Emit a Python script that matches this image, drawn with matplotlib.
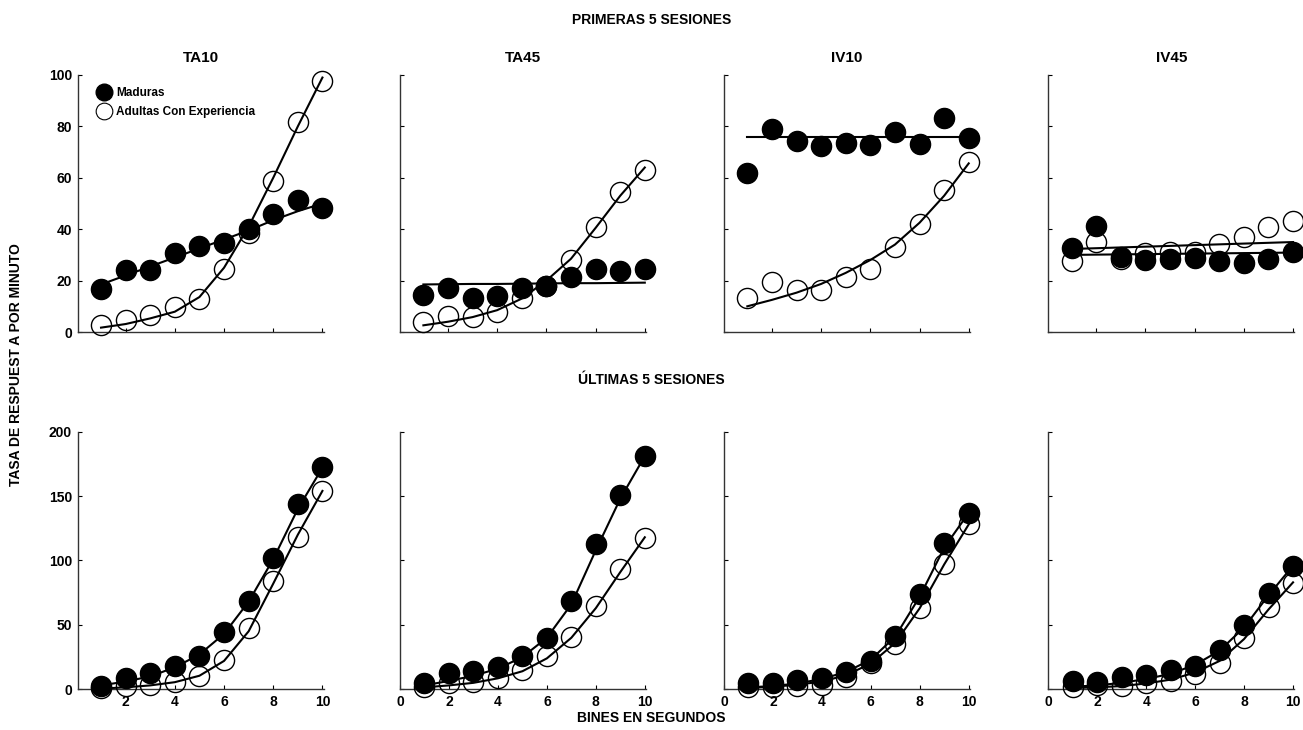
import matplotlib.pyplot as plt
import numpy as np

plt.rcParams['font.family'] = ['Liberation Sans', 'DejaVu Sans']
plt.rcParams['font.weight'] = 'bold'

bins = [1, 2, 3, 4, 5, 6, 7, 8, 9, 10]
conds = ["TA10", "TA45", "IV10", "IV45"]

# primeras 5 sesiones
top_mad = {
    "TA10": [16.6, 24.1, 24.0, 30.6, 33.5, 34.8, 40.0, 45.9, 51.4, 48.1],
    "TA45": [14.4, 17.2, 13.4, 14.0, 17.0, 17.9, 21.5, 24.4, 23.9, 24.5],
    "IV10": [61.7, 79.0, 74.3, 72.4, 73.4, 72.8, 77.7, 73.2, 83.1, 75.6],
    "IV45": [32.6, 41.4, 29.3, 28.0, 28.4, 28.7, 27.6, 26.7, 28.4, 31.0],
}
top_adu = {
    "TA10": [2.7, 4.7, 6.6, 9.9, 12.7, 24.4, 38.4, 58.9, 81.6, 97.8],
    "TA45": [3.8, 6.2, 5.7, 7.9, 13.4, 18.0, 28.0, 40.7, 54.3, 63.0],
    "IV10": [13.1, 19.3, 16.3, 16.3, 21.5, 24.4, 33.0, 42.0, 55.3, 66.3],
    "IV45": [27.6, 35.1, 28.3, 30.6, 31.0, 31.3, 34.1, 36.8, 41.0, 43.2],
}
top_fit_mad = {
    "TA10": [18.5, 22.0, 25.5, 29.0, 32.5, 36.0, 39.5, 43.5, 47.0, 50.0],
    "TA45": [18.5, 18.6, 18.7, 18.7, 18.8, 18.9, 19.0, 19.0, 19.1, 19.2],
    "IV10": [76.0, 76.0, 76.0, 76.0, 76.0, 76.0, 76.0, 76.0, 76.0, 76.0],
    "IV45": [30.0, 30.1, 30.2, 30.3, 30.4, 30.5, 30.6, 30.7, 30.8, 30.9],
}
top_fit_adu = {
    "TA10": [1.7, 3.1, 5.3, 7.9, 13.6, 25.0, 41.0, 60.0, 80.0, 99.0],
    "TA45": [2.6, 4.0, 5.8, 8.5, 13.0, 20.0, 28.5, 40.5, 53.0, 64.0],
    "IV10": [10.0, 12.5, 15.3, 18.7, 23.0, 28.0, 34.0, 42.5, 53.0, 65.6],
    "IV45": [32.3, 32.6, 32.9, 33.2, 33.5, 33.8, 34.1, 34.4, 34.7, 35.0],
}

# ultimas 5 sesiones
bot_mad = {
    "TA10": [2.8, 9.0, 12.4, 18.1, 26.1, 44.7, 68.8, 101.7, 143.6, 172.8],
    "TA45": [4.6, 12.4, 14.4, 17.0, 25.8, 39.6, 68.8, 112.5, 150.8, 181.0],
    "IV10": [5.2, 5.2, 7.2, 8.5, 13.7, 22.2, 41.4, 74.0, 113.9, 137.1],
    "IV45": [6.7, 5.9, 9.3, 11.1, 15.0, 18.1, 30.5, 49.9, 74.5, 95.7],
}
bot_adu = {
    "TA10": [1.3, 2.6, 3.3, 5.4, 10.3, 22.7, 47.8, 84.3, 118.5, 154.2],
    "TA45": [2.0, 4.6, 5.4, 8.5, 15.0, 25.8, 40.8, 64.9, 93.2, 117.7],
    "IV10": [2.0, 2.0, 2.8, 3.3, 9.8, 20.2, 35.2, 62.9, 97.0, 128.1],
    "IV45": [2.0, 3.3, 2.8, 4.6, 6.7, 11.9, 20.7, 39.6, 63.7, 82.8],
}
bot_fit_mad = {
    "TA10": [3.0, 6.0, 10.0, 17.0, 27.0, 43.0, 68.0, 101.0, 140.0, 172.0],
    "TA45": [3.0, 6.5, 10.5, 16.0, 25.0, 40.0, 66.0, 108.0, 148.0, 181.0],
    "IV10": [1.5, 2.5, 4.5, 8.0, 13.5, 23.0, 41.0, 72.0, 110.0, 137.0],
    "IV45": [2.0, 3.0, 5.0, 8.0, 12.0, 19.0, 30.0, 48.0, 73.0, 96.0],
}
bot_fit_adu = {
    "TA10": [0.5, 1.5, 3.0, 5.5, 10.5, 22.0, 45.0, 82.0, 120.0, 154.0],
    "TA45": [1.5, 3.0, 5.0, 8.5, 14.0, 24.0, 40.0, 63.0, 91.0, 118.0],
    "IV10": [1.0, 2.0, 3.5, 6.0, 11.0, 20.0, 36.0, 63.0, 97.0, 128.0],
    "IV45": [1.0, 1.5, 2.5, 4.5, 7.5, 13.0, 22.0, 39.0, 62.0, 83.0],
}

fig = plt.figure(figsize=(13.03, 7.30), dpi=100)

lefts = [0.0596, 0.307, 0.5556, 0.8045]
w = 0.1888


def style(ax):
    ax.spines['top'].set_visible(False)
    ax.spines['right'].set_visible(False)
    for s in ['left', 'bottom']:
        ax.spines[s].set_color('#333333')
        ax.spines[s].set_linewidth(1.0)
    ax.tick_params(direction='in', length=3, width=0.8, labelsize=10, pad=4)
    for lab in ax.get_xticklabels() + ax.get_yticklabels():
        lab.set_fontweight('bold')


def draw(ax, mad, adu, fm, fa):
    ax.plot(bins, fm, color='black', lw=1.5, zorder=2, clip_on=False)
    ax.plot(bins, fa, color='black', lw=1.5, zorder=2, clip_on=False)
    ax.plot(bins, adu, 'o', ms=14.5, mfc='none', mec='black', mew=1.0,
            zorder=3, clip_on=False)
    ax.plot(bins, mad, 'o', ms=14.5, mfc='black', mec='black', zorder=4,
            clip_on=False)


for i, c in enumerate(conds):
    ax = fig.add_axes([lefts[i], 0.5452, w, 0.3521])
    draw(ax, top_mad[c], top_adu[c], top_fit_mad[c], top_fit_adu[c])
    ax.set_xlim(0.05, 10.05)
    ax.set_ylim(0, 100)
    ax.set_xticks([2, 4, 6, 8, 10])
    ax.set_xticklabels([])
    ax.set_yticks([0, 20, 40, 60, 80, 100])
    if i > 0:
        ax.set_yticklabels([])
    ax.set_title(c, fontsize=11, fontweight='bold', pad=9)
    style(ax)
    if i == 0:
        h1, = ax.plot([], [], 'o', ms=12, mfc='black', mec='black')
        h2, = ax.plot([], [], 'o', ms=12, mfc='white', mec='black', mew=0.8)
        ax.legend([h1, h2], ['Maduras', 'Adultas Con Experiencia'],
                  loc='upper left', frameon=False,
                  prop={'size': 8.5, 'weight': 'bold'},
                  handlelength=0.8, handletextpad=0.6, labelspacing=0.6,
                  borderaxespad=0.0, bbox_to_anchor=(0.069, 0.971))

for i, c in enumerate(conds):
    ax = fig.add_axes([lefts[i], 0.0558, w, 0.3529])
    draw(ax, bot_mad[c], bot_adu[c], bot_fit_mad[c], bot_fit_adu[c])
    ax.set_xlim(0.05, 10.05)
    ax.set_ylim(0, 200)
    if i == 0:
        ax.set_xticks([2, 4, 6, 8, 10])
    else:
        ax.set_xticks([0, 2, 4, 6, 8, 10])
    ax.set_yticks([0, 50, 100, 150, 200])
    if i > 0:
        ax.set_yticklabels([])
    style(ax)

fig.text(0.5, 0.972, "PRIMERAS 5 SESIONES", ha='center', va='center',
         fontsize=10, fontweight='bold')
fig.text(0.5, 0.479, "ÚLTIMAS 5 SESIONES", ha='center', va='center',
         fontsize=10, fontweight='bold')
fig.text(0.5, 0.016, "BINES EN SEGUNDOS", ha='center', va='center',
         fontsize=10, fontweight='bold')
fig.text(0.0125, 0.5, "TASA DE RESPUEST A POR MINUTO", ha='center', va='center',
         rotation=90, fontsize=10, fontweight='bold')

fig.savefig("out.png", dpi=100)
